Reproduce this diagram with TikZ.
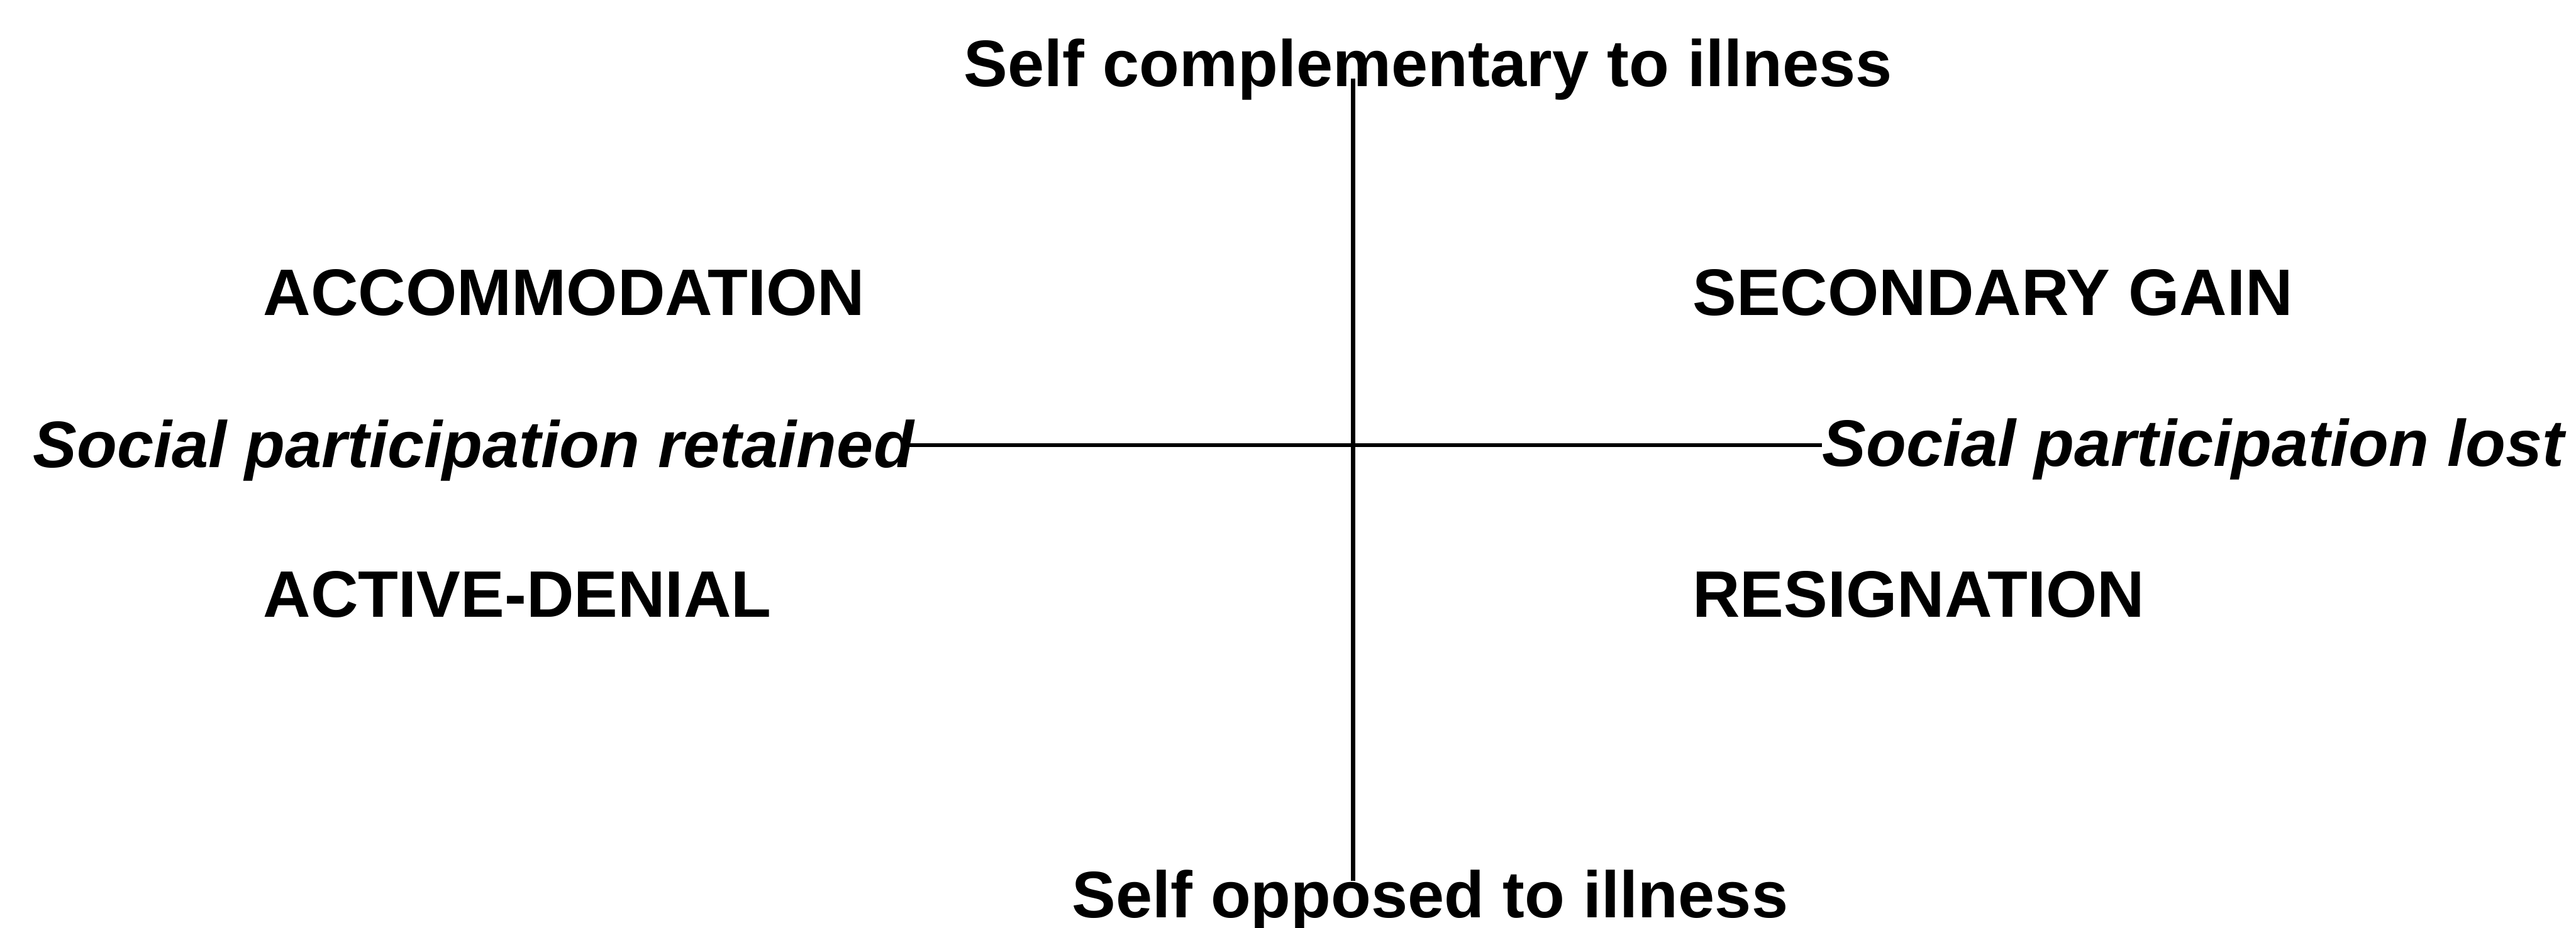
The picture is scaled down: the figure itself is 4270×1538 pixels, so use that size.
\documentclass[tikz,border=0pt]{standalone}
\usepackage{fontspec}
\setmainfont{Liberation Sans}
\begin{document}
\begin{tikzpicture}[x=0.01cm,y=-0.01cm,
  lbl/.style={inner sep=0pt,anchor=base west,font=\fontsize{31}{36}\selectfont\bfseries},
  axlbl/.style={lbl,font=\fontsize{31}{36}\selectfont\bfseries\itshape},
  axis/.style={line width=0.07cm,black}]
\useasboundingbox (0,0) rectangle (4270,1538);
\node[lbl] (top) at (1597,143) {Self complementary to illness};
\node[lbl] (bot) at (1776,1521) {Self opposed to illness};
\node[axlbl] (left) at (54,775) {Social participation retained};
\node[axlbl] (right) at (3020,773) {Social participation lost};
\node[lbl] (acc) at (436,523) {ACCOMMODATION};
\node[lbl] (sec) at (2805,523) {SECONDARY GAIN};
\node[lbl] (act) at (436,1023) {ACTIVE-DENIAL};
\node[lbl] (res) at (2805,1023) {RESIGNATION};
\coordinate (vt) at (2243,130);
\coordinate (vb) at (2243,1461);
\coordinate (hl) at (1507,738);
\coordinate (hr) at (3020,738);
\draw[axis] (vt) -- (vb);
\draw[axis] (hl) -- (hr);
\end{tikzpicture}
\end{document}
